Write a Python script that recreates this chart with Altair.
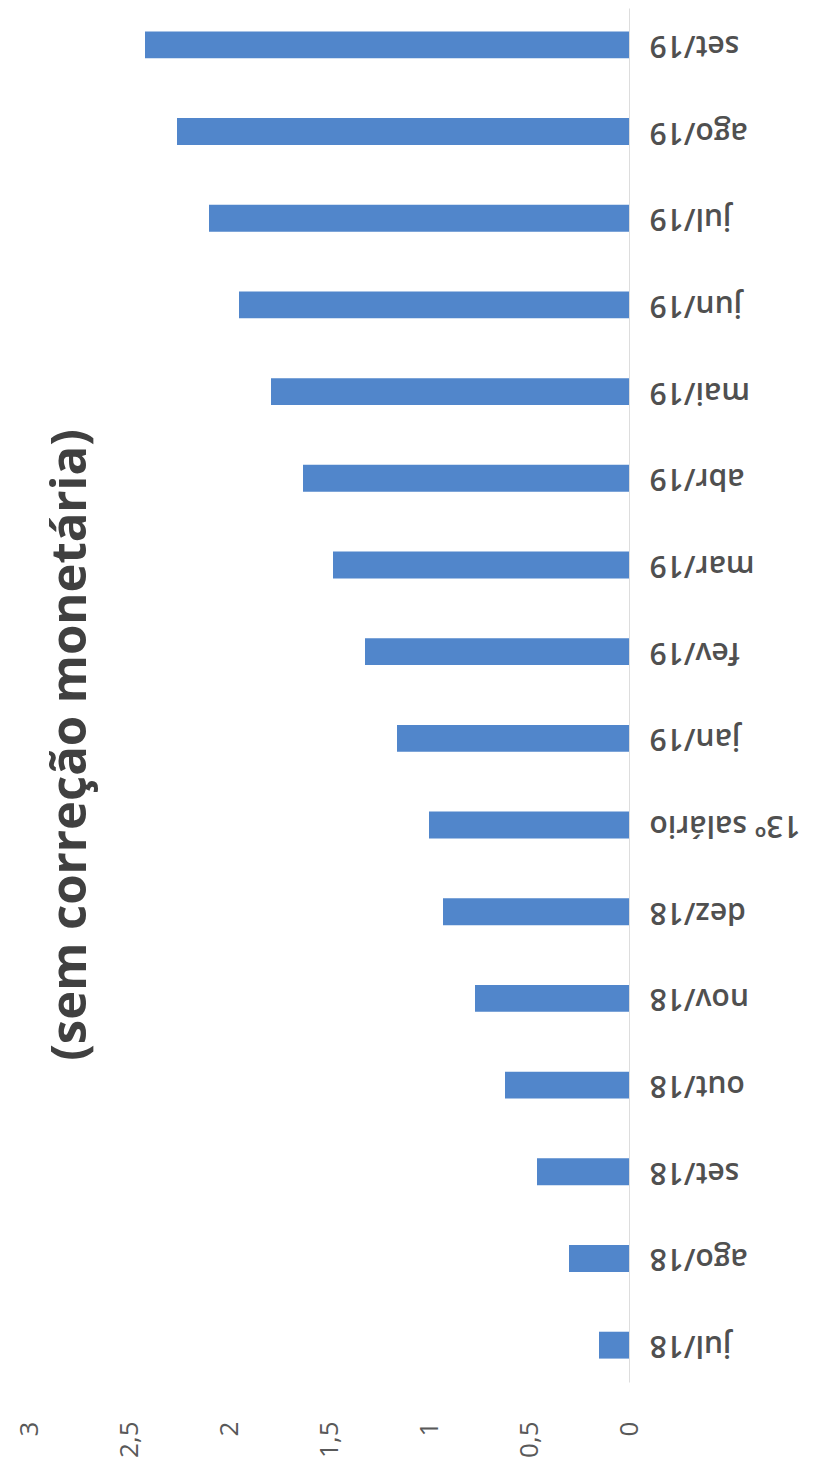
import altair as alt
import pandas as pd

categories = ["jul/18", "ago/18", "set/18", "out/18", "nov/18", "dez/18", "13º salário",
              "jan/19", "fev/19", "mar/19", "abr/19", "mai/19", "jun/19", "jul/19",
              "ago/19", "set/19"]
values = [0.15, 0.30, 0.46, 0.62, 0.77, 0.93, 1.00, 1.16, 1.32, 1.48, 1.63, 1.79,
          1.95, 2.10, 2.26, 2.42]
ticks = [0, 0.5, 1, 1.5, 2, 2.5, 3]
title_text = ["(sem correção monetária)"]

df = pd.DataFrame({"cat": categories, "val": values})

bars = alt.Chart(df).mark_bar(color="#5186cb").encode(
    y=alt.Y(
        "cat:N",
        sort=categories[::-1],
        scale=alt.Scale(paddingInner=0.69, paddingOuter=0.27),
        axis=alt.Axis(
            orient="right", title=None, labelAngle=180, labelAlign="right",
            labelBaseline="middle", labelFontSize=30, labelFont="Open Sans",
            labelFontWeight=600, labelColor="#505050", labelPadding=20,
            ticks=False, domainColor="#dddddd", labelLimit=400,
        ),
    ),
    x=alt.X(
        "val:Q",
        scale=alt.Scale(domain=[0, 3], reverse=True),
        axis=alt.Axis(
            values=ticks, labelAngle=270, grid=False, domain=False, ticks=False,
            title=None, labelFontSize=26, labelFont="Open Sans",
            labelColor="#595959", labelPadding=39, format=".1~f",
            labelExpr="replace(datum.label, '.', ',')",
        ),
    ),
)

title = alt.Chart(pd.DataFrame({"t": title_text})).mark_text(
    angle=270, fontSize=49, font="Open Sans", fontWeight="bold", color="#404040",
    align="center", baseline="middle",
).encode(x=alt.value(42), y=alt.value(737), text="t:N")

chart = alt.layer(bars, title).properties(
    width=600, height=1374,
    padding={"left": 8, "top": 0, "right": 0, "bottom": 0},
).configure_view(stroke=None)

chart.save("out.html", embed_options={"renderer": "svg", "actions": False})
